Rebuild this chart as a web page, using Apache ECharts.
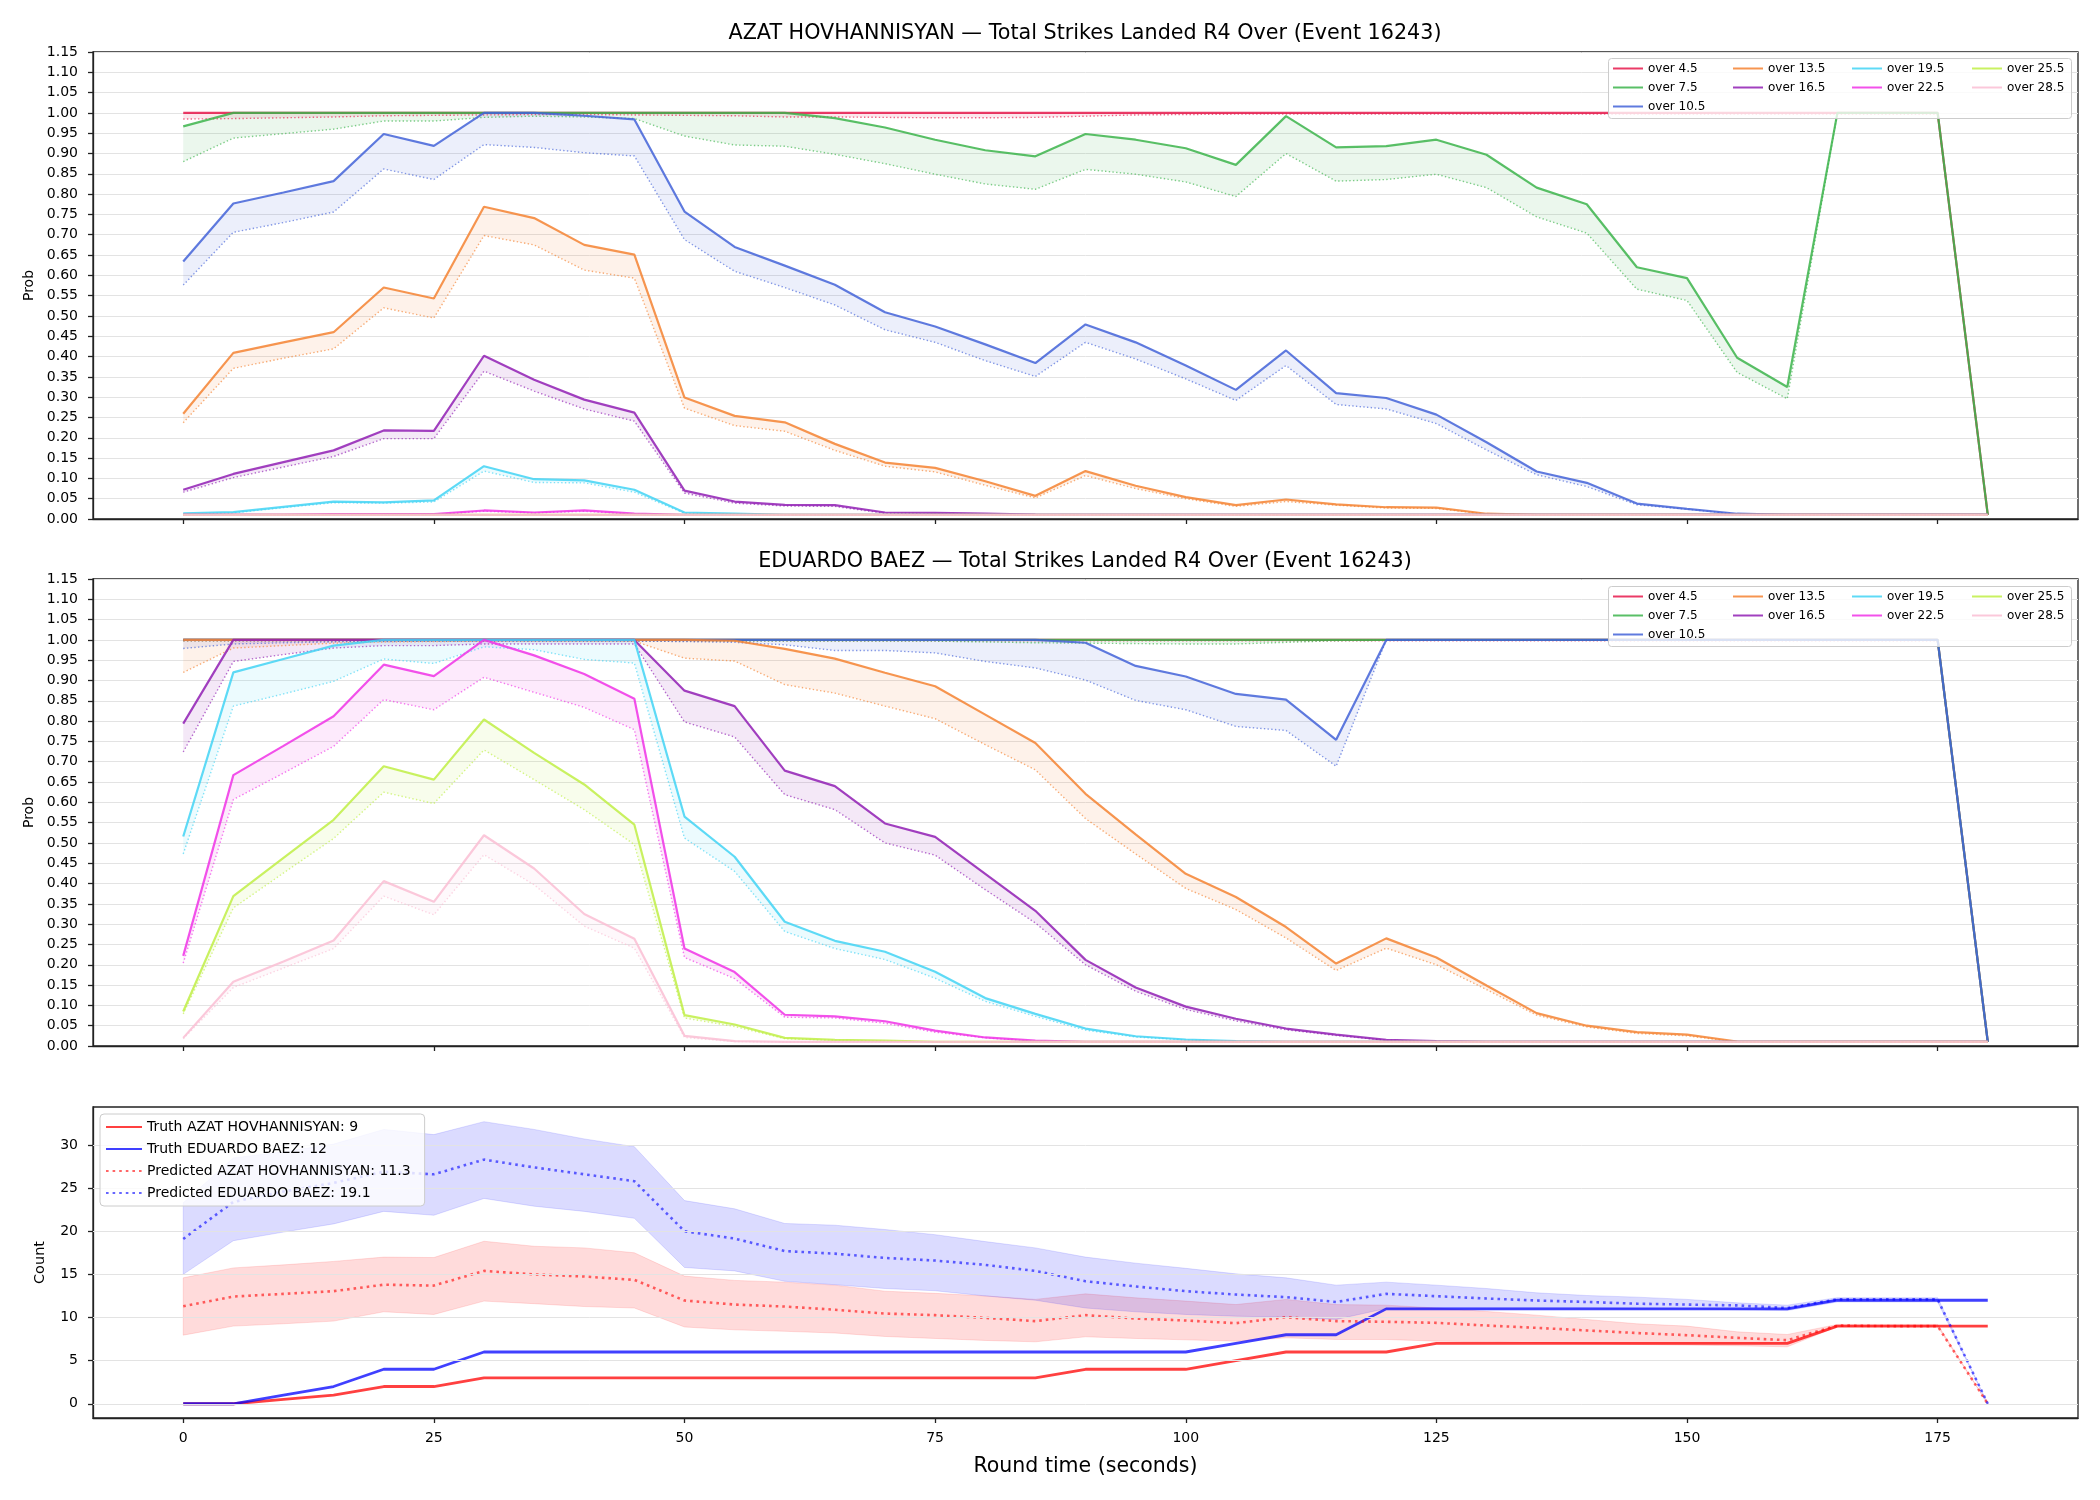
<!DOCTYPE html>
<html>
<head>
<meta charset="utf-8">
<script src="https://cdn.jsdelivr.net/npm/echarts@6/dist/echarts.min.js"></script>
<style>
  html, body { margin: 0; padding: 0; background: #fff; }
  #chart { width: 2100px; height: 1500px; }
</style>
</head>
<body>
<div id="chart"></div>
<script>
// round time axis (seconds)
const roundTimes = [0,5,10,15,20,25,30,35,40,45,50,55,60,65,70,75,80,85,90,95,100,105,110,115,120,125,130,135,140,145,150,155,160,165,170,175,180];
const xTickValues = [0,25,50,75,100,125,150,175];
const countTickValues = [0,5,10,15,20,25,30];

const overLabels = ['over 4.5','over 7.5','over 10.5','over 13.5','over 16.5','over 19.5','over 22.5','over 25.5','over 28.5'];
const overColors = ['#e6194b','#3cb44b','#4363d8','#f58231','#911eb4','#42d4f4','#f032e6','#bfef45','#fabed4'];

// ---- AZAT HOVHANNISYAN: solid (Hi) and dotted (Lo) probabilities
const azat45Hi = [1,1,1,1,1,1,1,1,1,1, 1,1,1,1,1,1,1,1,1,1, 1,1,1,1,1,1,1,1,1,1, 1,1,1,1,1,1,0.01];
const azat45Lo = [0.985,0.986,0.988,0.990,0.993,0.994,0.995,0.996,0.996,0.995, 0.994,0.993,0.990,0.990,0.989,0.988,0.988,0.989,0.992,0.995, 0.996,0.997,0.997,0.997,0.997,0.997,0.997,0.997,0.997,0.997, 0.997,0.997,0.997,0.997,0.997,0.997,0.01];
const azat75Hi = [0.967,1,1,1,1,1,1,1,1,1, 1,1,1,0.987,0.964,0.934,0.908,0.893,0.948,0.934, 0.913,0.872,0.992,0.915,0.918,0.934,0.897,0.816,0.775,0.620, 0.593,0.397,0.325,1,1,1,0.01];
const azat75Lo = [0.880,0.938,0.949,0.960,0.980,0.980,0.989,0.992,0.990,0.986, 0.943,0.921,0.918,0.898,0.875,0.849,0.825,0.812,0.861,0.849, 0.830,0.794,0.900,0.832,0.836,0.849,0.816,0.744,0.704,0.566, 0.538,0.361,0.296,1,1,1,0.01];
const azat105Hi = [0.634,0.777,0.804,0.832,0.948,0.919,1,1,0.993,0.984, 0.757,0.670,0.624,0.577,0.509,0.474,0.430,0.384,0.479,0.435, 0.378,0.318,0.415,0.310,0.298,0.257,0.189,0.117,0.089,0.038, 0.025,0.013,0.01,0.01,0.01,0.01,0.01];
const azat105Lo = [0.576,0.706,0.730,0.756,0.862,0.836,0.922,0.915,0.902,0.894, 0.688,0.610,0.570,0.527,0.466,0.435,0.390,0.351,0.435,0.394, 0.345,0.292,0.378,0.282,0.271,0.235,0.170,0.109,0.080,0.035, 0.024,0.012,0.01,0.01,0.01,0.01,0.01];
const azat135Hi = [0.259,0.409,0.435,0.460,0.570,0.543,0.769,0.741,0.675,0.651, 0.299,0.254,0.238,0.185,0.139,0.126,0.093,0.057,0.118,0.082, 0.054,0.034,0.048,0.036,0.029,0.028,0.013,0.01,0.01,0.01, 0.01,0.01,0.01,0.01,0.01,0.01,0.01];
const azat135Lo = [0.237,0.371,0.396,0.419,0.520,0.495,0.698,0.675,0.613,0.593, 0.273,0.230,0.216,0.169,0.130,0.116,0.083,0.052,0.107,0.075, 0.050,0.031,0.043,0.034,0.027,0.026,0.012,0.01,0.01,0.01, 0.01,0.01,0.01,0.01,0.01,0.01,0.01];
const azat165Hi = [0.072,0.111,0.140,0.169,0.218,0.217,0.402,0.343,0.294,0.262, 0.070,0.043,0.035,0.034,0.016,0.015,0.013,0.011,0.01,0.01, 0.01,0.01,0.01,0.01,0.01,0.01,0.01,0.01,0.01,0.01, 0.01,0.01,0.01,0.01,0.01,0.01,0.01];
const azat165Lo = [0.066,0.102,0.128,0.154,0.198,0.198,0.364,0.315,0.271,0.241, 0.064,0.039,0.032,0.031,0.014,0.013,0.012,0.010,0.01,0.01, 0.01,0.01,0.01,0.01,0.01,0.01,0.01,0.01,0.01,0.01, 0.01,0.01,0.01,0.01,0.01,0.01,0.01];
const azat195Hi = [0.014,0.017,0.030,0.043,0.041,0.046,0.130,0.098,0.095,0.072, 0.016,0.013,0.01,0.01,0.01,0.01,0.01,0.01,0.01,0.01, 0.01,0.01,0.01,0.01,0.01,0.01,0.01,0.01,0.01,0.01, 0.01,0.01,0.01,0.01,0.01,0.01,0.01];
const azat195Lo = [0.012,0.015,0.028,0.040,0.039,0.042,0.118,0.090,0.089,0.066, 0.014,0.012,0.01,0.01,0.01,0.01,0.01,0.01,0.01,0.01, 0.01,0.01,0.01,0.01,0.01,0.01,0.01,0.01,0.01,0.01, 0.01,0.01,0.01,0.01,0.01,0.01,0.01];
const azat225Hi = [0.011,0.011,0.011,0.012,0.012,0.012,0.021,0.016,0.021,0.013, 0.01,0.01,0.01,0.01,0.01,0.01,0.01,0.01,0.01,0.01, 0.01,0.01,0.01,0.01,0.01,0.01,0.01,0.01,0.01,0.01, 0.01,0.01,0.01,0.01,0.01,0.01,0.01];
const azat225Lo = [0.010,0.010,0.010,0.011,0.011,0.011,0.019,0.015,0.019,0.012, 0.01,0.01,0.01,0.01,0.01,0.01,0.01,0.01,0.01,0.01, 0.01,0.01,0.01,0.01,0.01,0.01,0.01,0.01,0.01,0.01, 0.01,0.01,0.01,0.01,0.01,0.01,0.01];
const azat255Hi = [0.01,0.01,0.01,0.01,0.01,0.01,0.01,0.01,0.01,0.01, 0.01,0.01,0.01,0.01,0.01,0.01,0.01,0.01,0.01,0.01, 0.01,0.01,0.01,0.01,0.01,0.01,0.01,0.01,0.01,0.01, 0.01,0.01,0.01,0.01,0.01,0.01,0.01];
const azat255Lo = azat255Hi;
const azat285Hi = [0.01,0.01,0.01,0.01,0.01,0.01,0.01,0.01,0.01,0.01, 0.01,0.01,0.01,0.01,0.01,0.01,0.01,0.01,0.01,0.01, 0.01,0.01,0.01,0.01,0.01,0.01,0.01,0.01,0.01,0.01, 0.01,0.01,0.01,0.01,0.01,0.01,0.01];
const azat285Lo = azat285Hi;

// ---- EDUARDO BAEZ
const ed45Hi = [1,1,1,1,1,1,1,1,1,1, 1,1,1,1,1,1,1,1,1,1, 1,1,1,1,1,1,1,1,1,1, 1,1,1,1,1,1,0.01];
const ed45Lo = [0.998,0.998,0.998,0.998,0.998,0.998,0.998,0.998,0.998,0.998, 0.998,0.998,0.998,0.998,0.998,0.998,0.998,0.998,0.998,0.998, 0.998,0.998,0.998,0.998,0.998,0.998,0.998,0.998,0.998,0.998, 0.998,0.998,0.998,0.998,0.998,0.998,0.01];
const ed75Hi = [1,1,1,1,1,1,1,1,1,1, 1,1,1,1,1,1,1,1,1,1, 1,1,1,1,1,1,1,1,1,1, 1,1,1,1,1,1,0.01];
const ed75Lo = [0.998,0.998,0.998,0.998,0.998,0.998,0.998,0.998,0.998,0.998, 0.998,0.997,0.997,0.997,0.997,0.997,0.995,0.993,0.992,0.991, 0.990,0.990,0.994,0.998,0.999,0.999,0.999,0.999,0.999,0.999, 0.999,0.999,0.999,0.999,0.999,0.999,0.01];
const ed105Hi = [1,1,1,1,1,1,1,1,1,1, 1,1,1,1,1,1,1,1,0.993,0.936, 0.910,0.867,0.853,0.754,1,1,1,1,1,1, 1,1,1,1,1,1,0.01];
const ed105Lo = [0.979,0.990,0.993,0.995,0.996,0.997,0.997,0.997,0.997,0.997, 0.996,0.994,0.988,0.974,0.974,0.968,0.947,0.931,0.901,0.851, 0.828,0.787,0.777,0.689,1,1,1,1,1,1, 1,1,1,1,1,1,0.01];
const ed135Hi = [1,1,1,1,1,1,1,1,1,1, 1,0.998,0.978,0.954,0.919,0.886,0.816,0.746,0.621,0.521, 0.424,0.367,0.293,0.203,0.265,0.218,0.149,0.081,0.050,0.034, 0.028,0.011,0.01,0.01,0.01,0.01,0.01];
const ed135Lo = [0.920,0.980,0.986,0.992,0.995,0.996,0.997,0.997,0.997,0.997, 0.955,0.948,0.890,0.869,0.837,0.806,0.742,0.680,0.560,0.473, 0.388,0.336,0.266,0.186,0.241,0.200,0.139,0.076,0.047,0.031, 0.025,0.010,0.01,0.01,0.01,0.01,0.01];
const ed165Hi = [0.794,1,1,1,1,1,1,1,1,1, 0.875,0.837,0.678,0.640,0.548,0.515,0.424,0.333,0.212,0.144, 0.097,0.067,0.043,0.028,0.015,0.012,0.01,0.01,0.01,0.01, 0.01,0.01,0.01,0.01,0.01,0.01,0.01];
const ed165Lo = [0.724,0.947,0.964,0.980,0.986,0.986,0.990,0.990,0.990,0.990, 0.798,0.761,0.619,0.582,0.500,0.470,0.385,0.303,0.200,0.135, 0.090,0.062,0.040,0.026,0.014,0.011,0.01,0.01,0.01,0.01, 0.01,0.01,0.01,0.01,0.01,0.01,0.01];
const ed195Hi = [0.516,0.920,0.953,0.986,1,1,1,1,1,1, 0.565,0.466,0.306,0.259,0.232,0.183,0.118,0.079,0.043,0.024, 0.016,0.012,0.01,0.01,0.01,0.01,0.01,0.01,0.01,0.01, 0.01,0.01,0.01,0.01,0.01,0.01,0.01];
const ed195Lo = [0.473,0.837,0.867,0.898,0.953,0.942,0.983,0.976,0.952,0.943, 0.512,0.430,0.282,0.240,0.213,0.167,0.110,0.073,0.039,0.022, 0.015,0.011,0.01,0.01,0.01,0.01,0.01,0.01,0.01,0.01, 0.01,0.01,0.01,0.01,0.01,0.01,0.01];
const ed225Hi = [0.222,0.667,0.739,0.812,0.939,0.911,1,0.962,0.916,0.855, 0.240,0.182,0.077,0.073,0.061,0.038,0.021,0.013,0.01,0.01, 0.01,0.01,0.01,0.01,0.01,0.01,0.01,0.01,0.01,0.01, 0.01,0.01,0.01,0.01,0.01,0.01,0.01];
const ed225Lo = [0.204,0.607,0.672,0.738,0.853,0.828,0.908,0.871,0.834,0.779, 0.218,0.166,0.071,0.069,0.056,0.034,0.020,0.012,0.01,0.01, 0.01,0.01,0.01,0.01,0.01,0.01,0.01,0.01,0.01,0.01, 0.01,0.01,0.01,0.01,0.01,0.01,0.01];
const ed255Hi = [0.085,0.369,0.463,0.557,0.689,0.656,0.804,0.722,0.644,0.545, 0.076,0.053,0.020,0.015,0.013,0.01,0.01,0.01,0.01,0.01, 0.01,0.01,0.01,0.01,0.01,0.01,0.01,0.01,0.01,0.01, 0.01,0.01,0.01,0.01,0.01,0.01,0.01];
const ed255Lo = [0.079,0.340,0.426,0.511,0.625,0.597,0.729,0.656,0.582,0.496, 0.069,0.048,0.018,0.014,0.012,0.01,0.01,0.01,0.01,0.01, 0.01,0.01,0.01,0.01,0.01,0.01,0.01,0.01,0.01,0.01, 0.01,0.01,0.01,0.01,0.01,0.01,0.01];
const ed285Hi = [0.020,0.158,0.208,0.260,0.406,0.355,0.519,0.437,0.325,0.264, 0.025,0.012,0.01,0.01,0.01,0.01,0.01,0.01,0.01,0.01, 0.01,0.01,0.01,0.01,0.01,0.01,0.01,0.01,0.01,0.01, 0.01,0.01,0.01,0.01,0.01,0.01,0.01];
const ed285Lo = [0.018,0.144,0.192,0.240,0.369,0.323,0.471,0.397,0.295,0.241, 0.021,0.011,0.01,0.01,0.01,0.01,0.01,0.01,0.01,0.01, 0.01,0.01,0.01,0.01,0.01,0.01,0.01,0.01,0.01,0.01, 0.01,0.01,0.01,0.01,0.01,0.01,0.01];

// ---- counts
const azatTruth = [0,0,0.5,1,2,2,3,3,3,3, 3,3,3,3,3,3,3,3,4,4, 4,5,6,6,6,7,7,7,7,7, 7,7,7,9,9,9,9];
const eduardoTruth = [0,0,1,2,4,4,6,6,6,6, 6,6,6,6,6,6,6,6,6,6, 6,7,8,8,11,11,11,11,11,11, 11,11,11,12,12,12,12];
const azatPred = [11.3,12.43,12.74,13.05,13.8,13.7,15.4,15.0,14.75,14.36, 11.97,11.5,11.27,10.9,10.46,10.27,9.96,9.58,10.27,9.88, 9.65,9.34,10.04,9.58,9.5,9.38,9.07,8.8,8.5,8.2, 7.95,7.64,7.37,9.07,9.0,9.0,0];
const azatPredHigh = [14.6,15.75,16.1,16.5,17.0,16.95,18.84,18.26,18.07,17.5, 14.8,14.3,14.1,13.75,13.05,12.8,12.5,12.1,12.74,12.28, 11.9,11.5,12.1,11.5,11.43,11.1,10.7,10.27,9.77,9.27, 9.0,8.34,8.03,9.2,9.2,9.2,0];
const azatPredLow = [7.95,9.0,9.27,9.58,10.66,10.35,11.9,11.6,11.27,11.1, 8.9,8.57,8.4,8.2,7.8,7.57,7.34,7.18,7.76,7.57, 7.41,7.26,7.64,7.45,7.45,7.26,7.18,7.07,6.95,6.87, 6.8,6.72,6.6,8.95,8.95,8.95,0];
const eduardoPred = [19.1,23.4,24.6,25.6,26.9,26.6,28.3,27.4,26.6,25.8, 20.0,19.15,17.7,17.4,16.9,16.6,16.1,15.4,14.2,13.6, 13.05,12.66,12.36,11.8,12.74,12.47,12.2,11.97,11.8,11.6, 11.5,11.4,11.1,12.1,12.1,12.1,0];
const eduardoPredHigh = [23.3,28.5,29.2,30.1,31.8,31.2,32.7,31.8,30.7,29.8, 23.55,22.6,20.9,20.7,20.2,19.6,18.8,18.07,17.0,16.3, 15.7,15.06,14.6,13.75,14.1,13.75,13.36,12.86,12.55,12.36, 12.1,11.7,11.43,12.3,12.3,12.3,0];
const eduardoPredLow = [15.0,18.9,19.9,20.85,22.3,21.85,23.8,22.9,22.3,21.5, 15.8,15.4,14.2,13.8,13.36,13.1,12.5,12.0,11.1,10.66, 10.35,10.15,10.04,9.77,11.04,11.1,11.1,11.1,11.1,11.0, 11.0,10.9,10.8,11.8,11.8,11.8,0];

const font = 'DejaVu Sans';
const chart = echarts.init(document.getElementById('chart'));

const pairs = (arr) => roundTimes.map((t, i) => [t, arr[i]]);

// filled band between lo and hi: one polygon drawn through the axis scales
function band(g, lo, hi, fill, stroke) {
  return {
    type: 'custom', xAxisIndex: g, yAxisIndex: g, silent: true, z: 1,
    data: roundTimes.map((t, i) => [t, lo[i], hi[i]]),
    encode: { x: 0, y: [1, 2] },
    renderItem: (params, api) => {
      if (params.dataIndex !== 0) return null;
      const upper = roundTimes.map((t, i) => api.coord([t, hi[i]]));
      const lower = roundTimes.map((t, i) => api.coord([t, lo[i]])).reverse();
      return {
        type: 'polygon',
        shape: { points: upper.concat(lower) },
        style: { fill: fill, stroke: stroke, lineWidth: 1 }
      };
    }
  };
}

function rgba(hex, a) {
  const n = parseInt(hex.slice(1), 16);
  return 'rgba(' + (n >> 16) + ',' + ((n >> 8) & 255) + ',' + (n & 255) + ',' + a + ')';
}

function probSeries(g, his, los) {
  const out = [];
  overLabels.forEach((name, k) => {
    const c = overColors[k];
    out.push(band(g, los[k], his[k], rgba(c, 0.1), 'none'));
    out.push({
      name: name, type: 'line', xAxisIndex: g, yAxisIndex: g, data: pairs(his[k]),
      symbol: 'none', z: 3, itemStyle: { color: c },
      lineStyle: { color: c, width: 2.2, opacity: 0.85 }
    });
    out.push({
      name: name + ' (low)', type: 'line', xAxisIndex: g, yAxisIndex: g, data: pairs(los[k]),
      symbol: 'none', z: 3, itemStyle: { color: c },
      lineStyle: { color: c, width: 1.4, type: [1.4, 2.3], opacity: 0.65 }
    });
  });
  return out;
}

const azatHi = [azat45Hi, azat75Hi, azat105Hi, azat135Hi, azat165Hi, azat195Hi, azat225Hi, azat255Hi, azat285Hi];
const azatLo = [azat45Lo, azat75Lo, azat105Lo, azat135Lo, azat165Lo, azat195Lo, azat225Lo, azat255Lo, azat285Lo];
const edHi = [ed45Hi, ed75Hi, ed105Hi, ed135Hi, ed165Hi, ed195Hi, ed225Hi, ed255Hi, ed285Hi];
const edLo = [ed45Lo, ed75Lo, ed105Lo, ed135Lo, ed165Lo, ed195Lo, ed225Lo, ed255Lo, ed285Lo];

const truthAName = 'Truth AZAT HOVHANNISYAN: ' + azatTruth[azatTruth.length - 1];
const truthBName = 'Truth EDUARDO BAEZ: ' + eduardoTruth[eduardoTruth.length - 1];
const predAName = 'Predicted AZAT HOVHANNISYAN: ' + azatPred[0];
const predBName = 'Predicted EDUARDO BAEZ: ' + eduardoPred[0];

const countSeries = [
  {
    type: 'line', xAxisIndex: 2, yAxisIndex: 2, data: pairs(azatTruth), symbol: 'none', silent: true, z: 0,
    lineStyle: { opacity: 0 },
    markLine: {
      silent: true, symbol: 'none', label: { show: false },
      lineStyle: { color: '#e3e3e3', width: 1, type: 'solid' },
      data: countTickValues.map(v => ({ yAxis: v }))
    }
  },
  band(2, azatPredLow, azatPredHigh, 'rgba(255,0,0,0.14)', 'rgba(255,0,0,0.12)'),
  band(2, eduardoPredLow, eduardoPredHigh, 'rgba(0,0,255,0.14)', 'rgba(0,0,255,0.12)'),
  { name: truthAName, type: 'line', xAxisIndex: 2, yAxisIndex: 2, data: pairs(azatTruth), symbol: 'none', z: 3,
    itemStyle: { color: '#ff0000' }, lineStyle: { color: '#ff0000', width: 2.8, opacity: 0.75 } },
  { name: truthBName, type: 'line', xAxisIndex: 2, yAxisIndex: 2, data: pairs(eduardoTruth), symbol: 'none', z: 3,
    itemStyle: { color: '#0000ff' }, lineStyle: { color: '#0000ff', width: 2.8, opacity: 0.75 } },
  { name: predAName, type: 'line', xAxisIndex: 2, yAxisIndex: 2, data: pairs(azatPred), symbol: 'none', z: 3,
    itemStyle: { color: '#ff0000' }, lineStyle: { color: '#ff0000', width: 2.6, type: [2.6, 4], opacity: 0.6 } },
  { name: predBName, type: 'line', xAxisIndex: 2, yAxisIndex: 2, data: pairs(eduardoPred), symbol: 'none', z: 3,
    itemStyle: { color: '#0000ff' }, lineStyle: { color: '#0000ff', width: 2.6, type: [2.6, 4], opacity: 0.6 } }
];

const gridTops = [52, 579, 1107];
const gridHeights = [467, 467, 311];
const axisColor = '#222';

const xAxes = [0, 1, 2].map(g => ({
  type: 'value', gridIndex: g, min: -9, max: 189,
  axisLine: { show: true, onZero: false, lineStyle: { color: axisColor, width: 1.3 } },
  axisTick: { show: true, customValues: xTickValues, length: 5, lineStyle: { color: axisColor, width: 1.3 } },
  axisLabel: { show: g === 2, customValues: xTickValues, fontFamily: font, fontSize: 14, color: '#000', margin: 13 },
  splitLine: { show: false },
  name: g === 2 ? 'Round time (seconds)' : '',
  nameLocation: 'middle', nameGap: 38,
  nameTextStyle: { fontFamily: font, fontSize: 20.5, color: '#000' }
}));

const yAxes = [0, 1].map(g => ({
  type: 'value', gridIndex: g, min: 0, max: 1.15, interval: 0.05,
  axisLine: { show: true, onZero: false, lineStyle: { color: axisColor, width: 1.3 } },
  axisTick: { show: true, length: 5, lineStyle: { color: axisColor, width: 1.3 } },
  axisLabel: { fontFamily: font, fontSize: 14, color: '#000', margin: 15, formatter: v => v.toFixed(2) },
  splitLine: { show: true, lineStyle: { color: '#e3e3e3', width: 1 } },
  name: 'Prob', nameLocation: 'middle', nameGap: 57,
  nameTextStyle: { fontFamily: font, fontSize: 14, color: '#000' }
}));
yAxes.push({
  type: 'value', gridIndex: 2, min: -1.65, max: 34.4,
  axisLine: { show: true, onZero: false, lineStyle: { color: axisColor, width: 1.3 } },
  axisTick: { show: true, customValues: countTickValues, length: 5, lineStyle: { color: axisColor, width: 1.3 } },
  axisLabel: { customValues: countTickValues, fontFamily: font, fontSize: 14, color: '#000', margin: 15 },
  splitLine: { show: false },
  name: 'Count', nameLocation: 'middle', nameGap: 45,
  nameTextStyle: { fontFamily: font, fontSize: 14.5, color: '#000' }
});

// four legend columns per probability panel, like the matplotlib ncol=4 box
const legendCols = [[0, 1, 2], [3, 4], [5, 6], [7, 8]];
const legendColX = [1612, 1732, 1851, 1971];
const legends = [];
[62.5, 590.5].forEach(top => {
  legendCols.forEach((col, c) => {
    legends.push({
      orient: 'vertical', left: legendColX[c], top: top, padding: 0,
      itemGap: 7, itemWidth: 30, itemHeight: 12, selectedMode: false, z: 60,
      itemStyle: { opacity: 0 },
      textStyle: { fontFamily: font, fontSize: 12, lineHeight: 12, color: '#000' },
      data: col.map(k => overLabels[k])
    });
  });
});
legends.push({
  orient: 'vertical', left: 100, top: 1114, padding: [6, 14, 6, 5],
  itemGap: 8, itemWidth: 36, itemHeight: 14, selectedMode: false, z: 60,
  itemStyle: { opacity: 0 },
  backgroundColor: 'rgba(255,255,255,0.8)', borderColor: '#cccccc', borderWidth: 1, borderRadius: 4,
  textStyle: { fontFamily: font, fontSize: 14, color: '#000' },
  data: [truthAName, truthBName, predAName, predBName]
});

const option = {
  animation: false,
  backgroundColor: '#fff',
  title: [
    { text: 'AZAT HOVHANNISYAN — Total Strikes Landed R4 Over (Event 16243)', left: 1085, top: 23, textAlign: 'center', padding: 0,
      textStyle: { fontFamily: font, fontSize: 20.7, fontWeight: 'normal', color: '#000' } },
    { text: 'EDUARDO BAEZ — Total Strikes Landed R4 Over (Event 16243)', left: 1085, top: 551, textAlign: 'center', padding: 0,
      textStyle: { fontFamily: font, fontSize: 20.7, fontWeight: 'normal', color: '#000' } }
  ],
  grid: [0, 1, 2].map(g => ({
    left: 93, right: 22, top: gridTops[g], height: gridHeights[g],
    show: true, borderColor: axisColor, borderWidth: 1.3, backgroundColor: 'transparent'
  })),
  xAxis: xAxes,
  yAxis: yAxes,
  legend: legends,
  graphic: [
    { type: 'rect', left: 1608, top: 58, z: 50, shape: { width: 463, height: 60, r: 3 },
      style: { fill: 'rgba(255,255,255,0.8)', stroke: '#cccccc', lineWidth: 1 } },
    { type: 'rect', left: 1608, top: 586, z: 50, shape: { width: 463, height: 60, r: 3 },
      style: { fill: 'rgba(255,255,255,0.8)', stroke: '#cccccc', lineWidth: 1 } }
  ],
  series: [
    ...probSeries(0, azatHi, azatLo),
    ...probSeries(1, edHi, edLo),
    ...countSeries
  ]
};

chart.setOption(option);
</script>
</body>
</html>
